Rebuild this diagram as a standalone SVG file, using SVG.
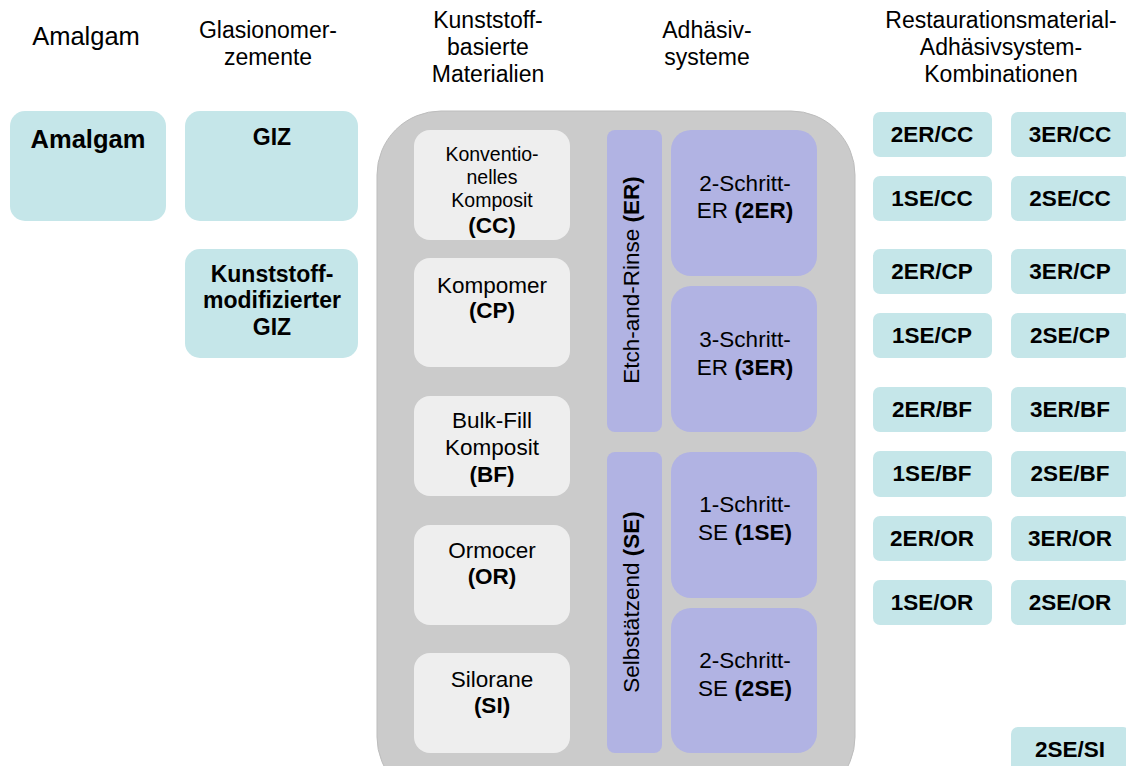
<svg xmlns="http://www.w3.org/2000/svg" width="1126" height="766" viewBox="0 0 1126 766">
<style>
text{font-family:"Liberation Sans",Arial,sans-serif;fill:#000;text-anchor:middle}
.h{font-size:23px}
.b{font-weight:bold}
.teal{fill:#c5e6e9}
.lg{fill:#eeeeee}
.pu{fill:#b1b3e3}
.n{font-size:22.5px}
.c{font-size:22.5px;font-weight:bold}
</style>
<rect width="1126" height="766" fill="#fff"/>
<g id="headings">
<text class="h" x="86" y="45" style="font-size:25.5px">Amalgam</text>
<text class="h" x="268" y="38">Glasionomer-</text>
<text class="h" x="268" y="65">zemente</text>
<text class="h" x="488" y="28">Kunststoff-</text>
<text class="h" x="488" y="55">basierte</text>
<text class="h" x="488" y="82">Materialien</text>
<text class="h" x="707" y="38">Adhäsiv-</text>
<text class="h" x="707" y="65">systeme</text>
<text class="h" x="1001" y="28">Restaurationsmaterial-</text>
<text class="h" x="1001" y="55">Adhäsivsystem-</text>
<text class="h" x="1001" y="82">Kombinationen</text>
</g>
<g id="amalgam"><rect class="teal" x="10" y="111" width="156" height="110" rx="15"/><text class="b" x="88" y="148" style="font-size:25.5px">Amalgam</text></g>
<g id="giz"><rect class="teal" x="185" y="111" width="173" height="110" rx="15"/><text class="b" x="272" y="145" style="font-size:23px">GIZ</text></g>
<g id="kmgiz"><rect class="teal" x="185" y="249" width="173" height="109" rx="15"/><text class="b" x="272" y="282" style="font-size:23px">Kunststoff-</text><text class="b" x="272" y="308" style="font-size:23px">modifizierter</text><text class="b" x="272" y="335" style="font-size:23px">GIZ</text></g>
<g id="container"><rect x="377" y="111" width="478" height="690" rx="64" fill="#cbcbcb" stroke="#bdbdbd" stroke-width="1"/></g>
<g id="cc"><rect class="lg" x="414" y="130" width="156" height="110" rx="16"/><text x="492" y="161" style="font-size:19.5px">Konventio-</text><text x="492" y="184" style="font-size:19.5px">nelles</text><text x="492" y="207" style="font-size:19.5px">Komposit</text><text class="c" x="492" y="233">(CC)</text></g>
<g id="cp"><rect class="lg" x="414" y="258" width="156" height="109" rx="16"/><text class="n" x="492" y="293">Kompomer</text><text class="c" x="492" y="318">(CP)</text></g>
<g id="bf"><rect class="lg" x="414" y="396" width="156" height="100" rx="16"/><text class="n" x="492" y="428">Bulk-Fill</text><text class="n" x="492" y="455">Komposit</text><text class="c" x="492" y="482">(BF)</text></g>
<g id="or"><rect class="lg" x="414" y="525" width="156" height="100" rx="16"/><text class="n" x="492" y="558">Ormocer</text><text class="c" x="492" y="584">(OR)</text></g>
<g id="si"><rect class="lg" x="414" y="653" width="156" height="100" rx="16"/><text class="n" x="492" y="687">Silorane</text><text class="c" x="492" y="713">(SI)</text></g>
<g id="er"><rect class="pu" x="607" y="130" width="55" height="302" rx="8"/><text class="n" transform="translate(639,280) rotate(-90)">Etch-and-Rinse <tspan font-weight="bold">(ER)</tspan></text></g>
<g id="se"><rect class="pu" x="607" y="452" width="55" height="301" rx="8"/><text class="n" transform="translate(639,602) rotate(-90)">Selbstätzend <tspan font-weight="bold">(SE)</tspan></text></g>
<g id="er2"><rect class="pu" x="671" y="130" width="146" height="146" rx="20"/><text class="n" x="745" y="191">2-Schritt-</text><text class="n" x="745" y="218">ER <tspan font-weight="bold">(2ER)</tspan></text></g>
<g id="er3"><rect class="pu" x="671" y="286" width="146" height="146" rx="20"/><text class="n" x="745" y="347">3-Schritt-</text><text class="n" x="745" y="375">ER <tspan font-weight="bold">(3ER)</tspan></text></g>
<g id="se1"><rect class="pu" x="671" y="452" width="146" height="146" rx="20"/><text class="n" x="745" y="512">1-Schritt-</text><text class="n" x="745" y="540">SE <tspan font-weight="bold">(1SE)</tspan></text></g>
<g id="se2"><rect class="pu" x="671" y="608" width="146" height="145" rx="20"/><text class="n" x="745" y="668">2-Schritt-</text><text class="n" x="745" y="696">SE <tspan font-weight="bold">(2SE)</tspan></text></g>
<g id="combos">
<g id="c1"><rect class="teal" x="873" y="112" width="119" height="45" rx="7"/><text class="c" x="932" y="142">2ER/CC</text></g>
<g id="c2"><rect class="teal" x="1011" y="112" width="119" height="45" rx="7"/><text class="c" x="1070" y="142">3ER/CC</text></g>
<g id="c3"><rect class="teal" x="873" y="176" width="119" height="45" rx="7"/><text class="c" x="932" y="206">1SE/CC</text></g>
<g id="c4"><rect class="teal" x="1011" y="176" width="119" height="45" rx="7"/><text class="c" x="1070" y="206">2SE/CC</text></g>
<g id="c5"><rect class="teal" x="873" y="249" width="119" height="45" rx="7"/><text class="c" x="932" y="279">2ER/CP</text></g>
<g id="c6"><rect class="teal" x="1011" y="249" width="119" height="45" rx="7"/><text class="c" x="1070" y="279">3ER/CP</text></g>
<g id="c7"><rect class="teal" x="873" y="313" width="119" height="45" rx="7"/><text class="c" x="932" y="343">1SE/CP</text></g>
<g id="c8"><rect class="teal" x="1011" y="313" width="119" height="45" rx="7"/><text class="c" x="1070" y="343">2SE/CP</text></g>
<g id="c9"><rect class="teal" x="873" y="387" width="119" height="45" rx="7"/><text class="c" x="932" y="417">2ER/BF</text></g>
<g id="c10"><rect class="teal" x="1011" y="387" width="119" height="45" rx="7"/><text class="c" x="1070" y="417">3ER/BF</text></g>
<g id="c11"><rect class="teal" x="873" y="451" width="119" height="46" rx="7"/><text class="c" x="932" y="481">1SE/BF</text></g>
<g id="c12"><rect class="teal" x="1011" y="451" width="119" height="46" rx="7"/><text class="c" x="1070" y="481">2SE/BF</text></g>
<g id="c13"><rect class="teal" x="873" y="516" width="119" height="45" rx="7"/><text class="c" x="932" y="546">2ER/OR</text></g>
<g id="c14"><rect class="teal" x="1011" y="516" width="119" height="45" rx="7"/><text class="c" x="1070" y="546">3ER/OR</text></g>
<g id="c15"><rect class="teal" x="873" y="580" width="119" height="45" rx="7"/><text class="c" x="932" y="610">1SE/OR</text></g>
<g id="c16"><rect class="teal" x="1011" y="580" width="119" height="45" rx="7"/><text class="c" x="1070" y="610">2SE/OR</text></g>
<g id="c17"><rect class="teal" x="1011" y="727" width="119" height="45" rx="7"/><text class="c" x="1070" y="757">2SE/SI</text></g>
</g>
<g id="connectors"/>
</svg>
